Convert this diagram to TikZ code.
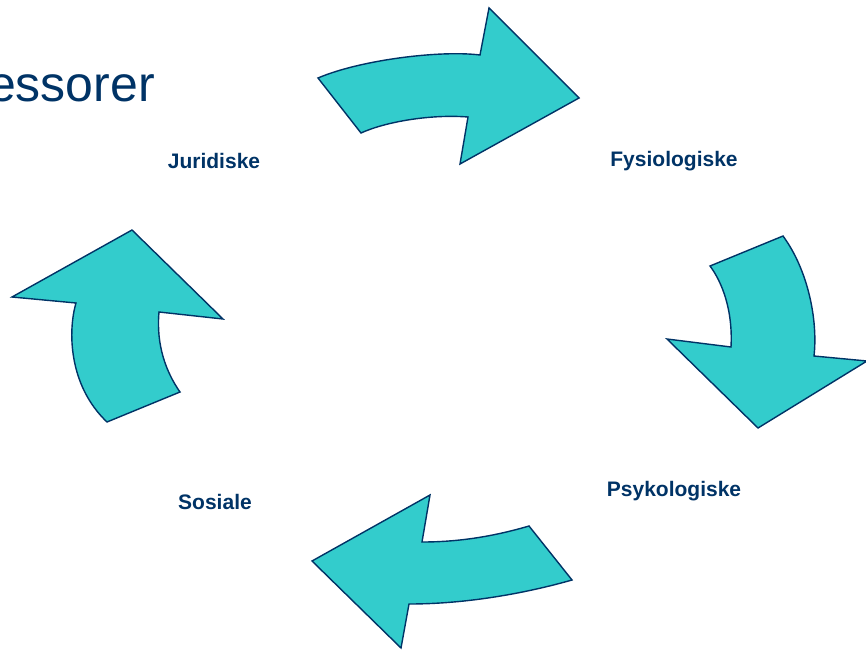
\documentclass[tikz,border=0pt]{standalone}
\usepackage{fontspec}
\setmainfont{Liberation Sans}
\definecolor{navy}{HTML}{003366}
\definecolor{turq}{HTML}{33CCCC}
\begin{document}
\begin{tikzpicture}[x=1pt,y=-1pt,
  arrowshape/.style={fill=turq,draw=navy,line width=1.4pt,line join=miter},
  lbl/.style={text=navy,font=\fontsize{21}{25}\selectfont\bfseries,inner sep=0pt},
  ttl/.style={text=navy,font=\fontsize{50}{58}\selectfont,inner sep=0pt}]
\useasboundingbox (0,0) rectangle (866,650);
\clip (0,0) rectangle (866,650);
% title
\node[ttl,anchor=base east] (title) at (155,102) {essorer};
% top arrow
\draw[arrowshape] (318,78) .. controls (360,60) and (440,50) .. (480,55)
  -- (489,8) -- (579,98) -- (460,164) -- (468,117)
  .. controls (430,114) and (385,122) .. (361,133) -- cycle;
% right arrow
\draw[arrowshape] (783,236) -- (710,266)
  .. controls (722,282) and (733,310) .. (731,347)
  -- (667,339) -- (758,428) -- (867,361) -- (814,356)
  .. controls (818,320) and (808,270) .. (783,236) -- cycle;
% bottom arrow
\draw[arrowshape] (529,526) .. controls (495,536) and (460,542) .. (422,542)
  -- (430,495) -- (312,561) -- (401,648) -- (409,604)
  .. controls (470,604) and (530,592) .. (572,580) -- cycle;
% left arrow
\draw[arrowshape] (132,230) -- (12,297) -- (76,303)
  .. controls (68,330) and (68,385) .. (107,422)
  -- (180,392)
  .. controls (166,372) and (156,345) .. (159,312)
  -- (223,319) -- cycle;
% labels
\node[lbl] (jur) at (214,161) {Juridiske};
\node[lbl] (fys) at (674,161) {Fysiologiske};
\node[lbl] (psy) at (674,491) {Psykologiske};
\node[lbl] (sos) at (215,502) {Sosiale};
\end{tikzpicture}
\end{document}
